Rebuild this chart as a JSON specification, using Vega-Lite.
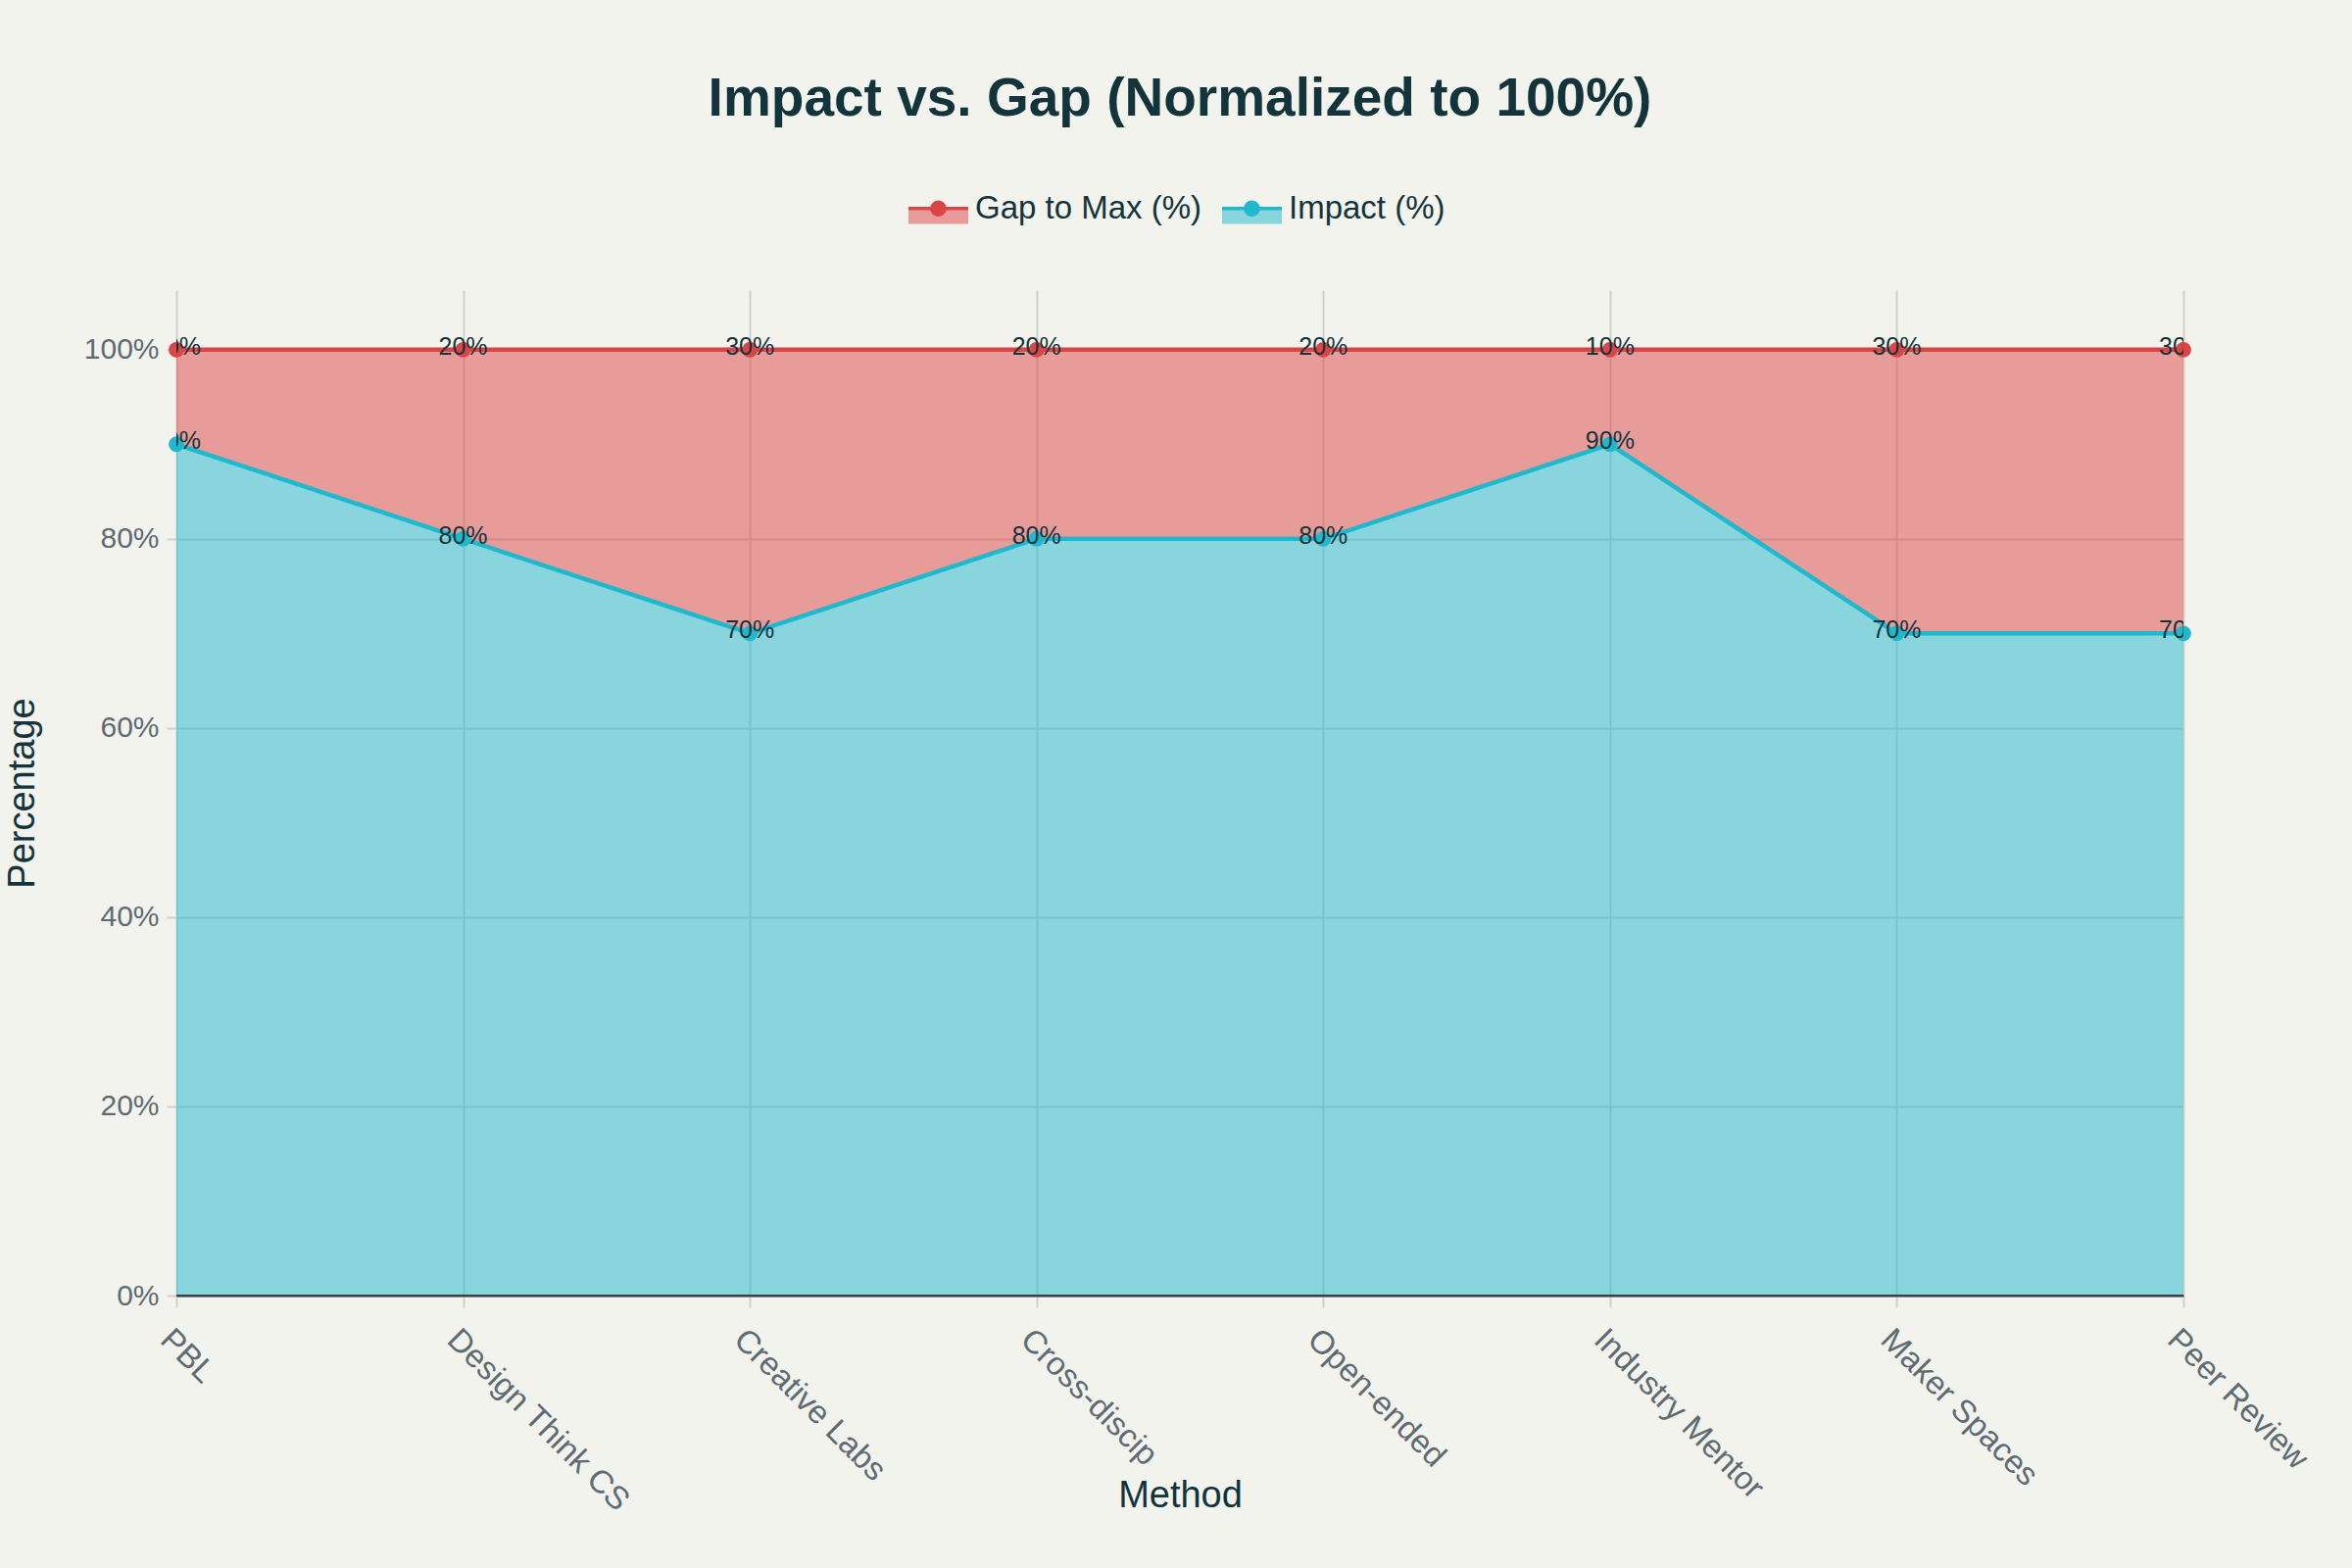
{
  "$schema": "https://vega.github.io/schema/vega-lite/v6.json",
  "width": 2048,
  "height": 1026,
  "autosize": {"type": "none"},
  "padding": {"left": 180, "top": 296, "right": 172, "bottom": 278},
  "background": "#f3f3ee",
  "title": {"text": "Impact vs. Gap (Normalized to 100%)", "fontSize": 55, "font": "Liberation Sans", "fontWeight": "bold", "color": "#13343b", "anchor": "middle", "offset": 52},
  "data": {"values": [
    {"Method": "PBL", "Series": "Impact (%)", "Value": 0.9},
    {"Method": "PBL", "Series": "Gap to Max (%)", "Value": 0.1},
    {"Method": "Design Think CS", "Series": "Impact (%)", "Value": 0.8},
    {"Method": "Design Think CS", "Series": "Gap to Max (%)", "Value": 0.2},
    {"Method": "Creative Labs", "Series": "Impact (%)", "Value": 0.7},
    {"Method": "Creative Labs", "Series": "Gap to Max (%)", "Value": 0.3},
    {"Method": "Cross-discip", "Series": "Impact (%)", "Value": 0.8},
    {"Method": "Cross-discip", "Series": "Gap to Max (%)", "Value": 0.2},
    {"Method": "Open-ended", "Series": "Impact (%)", "Value": 0.8},
    {"Method": "Open-ended", "Series": "Gap to Max (%)", "Value": 0.2},
    {"Method": "Industry Mentor", "Series": "Impact (%)", "Value": 0.9},
    {"Method": "Industry Mentor", "Series": "Gap to Max (%)", "Value": 0.1},
    {"Method": "Maker Spaces", "Series": "Impact (%)", "Value": 0.7},
    {"Method": "Maker Spaces", "Series": "Gap to Max (%)", "Value": 0.3},
    {"Method": "Peer Review", "Series": "Impact (%)", "Value": 0.7},
    {"Method": "Peer Review", "Series": "Gap to Max (%)", "Value": 0.3}
  ]},
  "layer": [
    {
      "mark": {"type": "area", "fillOpacity": 0.5, "opacity": 1},
      "encoding": {
        "x": {"field": "Method", "type": "ordinal", "sort": null, "scale": {"type": "point", "padding": 0},
          "axis": {"title": "Method", "titleFontSize": 38, "titleColor": "#13343b", "titleFontWeight": "normal", "titleY": 204, "titleBaseline": "middle",
            "labelAngle": 45, "labelFontSize": 33, "labelColor": "#5f6b72", "labelPadding": 16, "labelOverlap": false, "labelLimit": 0,
            "tickSize": 12, "tickColor": "#d3d0cb", "tickWidth": 2, "domainColor": "#3a3f44", "domainWidth": 2,
            "grid": true, "gridColor": "#d3d0cb", "gridWidth": 2}},
        "y": {"field": "Value", "type": "quantitative", "stack": "zero", "scale": {"domain": [0, 1.063], "nice": false},
          "axis": {"title": "Percentage", "titleFontSize": 38, "titleColor": "#13343b", "titleFontWeight": "normal", "titleX": -157, "titleY": 513, "titleAngle": -90, "titleBaseline": "middle", "titleAlign": "center",
            "format": ".0%", "values": [0, 0.2, 0.4, 0.6, 0.8, 1], "labelFontSize": 30, "labelColor": "#5f6b72", "labelPadding": 8,
            "tickSize": 10, "tickColor": "#d3d0cb", "tickWidth": 2, "domain": false, "grid": true, "gridColor": "#d3d0cb", "gridWidth": 2}},
        "fill": {"field": "Series", "type": "nominal",
          "scale": {"domain": ["Gap to Max (%)", "Impact (%)"], "range": ["#DB4545", "#1FB8CD"]},
          "legend": {"orient": "none", "legendX": 747, "legendY": -114, "direction": "horizontal", "title": null, "zindex": 0,
            "symbolType": "M-1,0L1,0L1,0.52L-1,0.52Z",
            "symbolSize": 3721, "symbolOpacity": 0.5, "symbolStrokeWidth": 0, "labelLimit": 0, "labelOpacity": 0,
            "labelFontSize": 33, "labelColor": "#13343b", "labelOffset": 7, "columnPadding": 20, "labelFont": "Liberation Sans"}}
      }
    },
    {
      "mark": {"type": "line", "strokeWidth": 4.5},
      "encoding": {
        "x": {"field": "Method", "type": "ordinal", "sort": null},
        "y": {"field": "Value", "type": "quantitative", "stack": "zero"},
        "stroke": {"field": "Series", "type": "nominal",
          "scale": {"domain": ["Gap to Max (%)", "Impact (%)"], "range": ["#DB4545", "#1FB8CD"]}, "legend": null}
      }
    },
    {
      "mark": {"type": "rule", "color": "#3a3f44", "strokeWidth": 2},
      "encoding": {"y": {"datum": 0, "type": "quantitative"}}
    },
    {
      "mark": {"type": "point", "filled": true, "size": 250, "opacity": 1},
      "encoding": {
        "x": {"field": "Method", "type": "ordinal", "sort": null},
        "y": {"field": "Value", "type": "quantitative", "stack": "zero"},
        "color": {"field": "Series", "type": "nominal",
          "scale": {"domain": ["Impact (%)", "Gap to Max (%)"], "range": ["#1FB8CD", "#DB4545"]},
          "legend": {"orient": "none", "legendX": 747, "legendY": -114, "direction": "horizontal", "title": null, "zindex": 1,
            "values": ["Gap to Max (%)", "Impact (%)"],
            "symbolType": "M-1,-0.06L1,-0.06L1,0.06L-1,0.06Z M0.27,0A0.27,0.27,0,1,1,-0.27,0A0.27,0.27,0,1,1,0.27,0Z",
            "symbolSize": 3721, "symbolOpacity": 1, "symbolStrokeWidth": 0, "labelLimit": 0,
            "labelFontSize": 33, "labelColor": "#13343b", "labelOffset": 7, "columnPadding": 20, "labelFont": "Liberation Sans"}}
      }
    },
    {
      "mark": {"type": "text", "clip": true, "fontSize": 25, "dy": -3, "color": "#13343b", "font": "Liberation Sans"},
      "encoding": {
        "x": {"field": "Method", "type": "ordinal", "sort": null},
        "y": {"field": "Value", "type": "quantitative", "stack": "zero"},
        "detail": {"field": "Series", "type": "nominal"},
        "text": {"field": "Value", "type": "quantitative", "format": ".0%"}
      }
    }
  ],
  "config": {"view": {"stroke": null}, "font": "Liberation Sans"}
}
